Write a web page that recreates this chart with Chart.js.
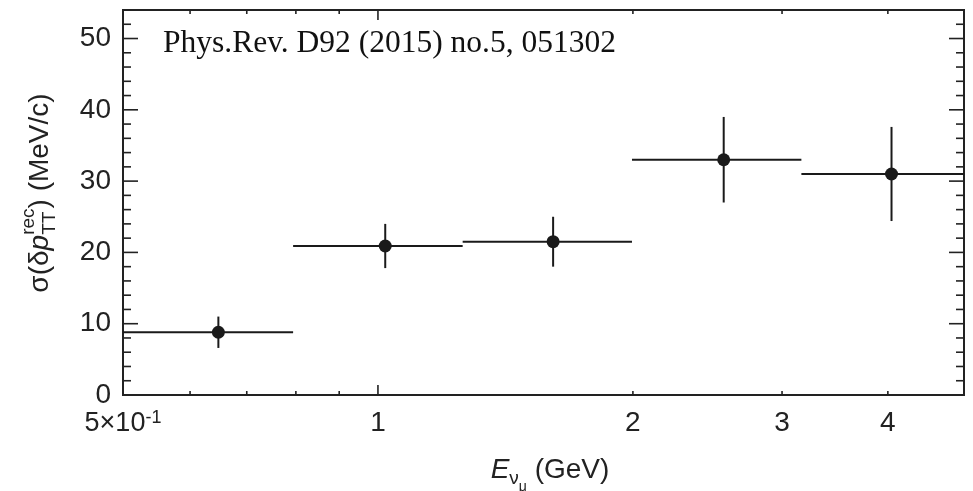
<!DOCTYPE html>
<html>
<head>
<meta charset="utf-8">
<script src="https://cdn.jsdelivr.net/npm/chart.js@4.4.1/dist/chart.umd.min.js"></script>
<style>
  html, body { margin: 0; padding: 0; background: #fff; }
  #wrap { width: 973px; height: 491px; }
</style>
</head>
<body>
<div id="wrap"><canvas id="sigmaChart"></canvas></div>
<script>
// Energy bins (GeV), bin centres and measured width of delta p_TT
const binLow = [0.5, 0.794, 1.259, 1.995, 3.162];
const binHigh = [0.794, 1.259, 1.995, 3.162, 5.012];
const energy = [0.648, 1.02, 1.61, 2.56, 4.04];
const sigma = [8.8, 20.9, 21.5, 33.0, 31.0];
const sigmaErr = [2.2, 3.1, 3.5, 6.0, 6.6];

// Axis ticks
const xTickValues = [1, 2, 3, 4];
const xTickLabels = ['1', '2', '3', '4'];
const xMinorValues = [0.6, 0.7, 0.8, 0.9];
const yTickValues = [0, 10, 20, 30, 40, 50];

const sans = '"Liberation Sans", Arial, sans-serif';
const serif = '"Liberation Serif", "Times New Roman", serif';
const ink = '#222';

function font(size, style) {
  return (style ? style + ' ' : '') + size + 'px ' + sans;
}

function seg(ctx, x1, y1, x2, y2) {
  ctx.beginPath();
  ctx.moveTo(x1, y1);
  ctx.lineTo(x2, y2);
  ctx.stroke();
}

// draw a run of text pieces; a piece with "stack" puts sup and sub at the same x
function drawRuns(ctx, parts, x, y, measureOnly) {
  let dx = 0;
  for (const p of parts) {
    if (p.stack) {
      let w = 0;
      for (const q of p.stack) {
        ctx.font = font(q.size, q.style);
        if (!measureOnly) ctx.fillText(q.t, x + dx, y + (q.dy || 0));
        w = Math.max(w, ctx.measureText(q.t).width);
      }
      dx += w;
    } else {
      ctx.font = font(p.size, p.style);
      if (!measureOnly) ctx.fillText(p.t, x + dx, y + (p.dy || 0));
      dx += ctx.measureText(p.t).width;
    }
  }
  return dx;
}

const yTitle = [
  { t: 'σ(δ', size: 28 },
  { t: 'p', size: 28, style: 'italic' },
  { stack: [{ t: 'rec', size: 19, dy: -14 }, { t: 'TT', size: 19, dy: 7 }] },
  { t: ') (MeV/c)', size: 28 }
];

const xTitle = [
  { t: 'E', size: 28, style: 'italic' },
  { t: 'ν', size: 19, dy: 6 },
  { t: 'μ', size: 14, dy: 13 },
  { t: ' (GeV)', size: 28 }
];

const framePlugin = {
  id: 'frame',
  beforeDatasetsDraw(chart) {
    const { ctx, chartArea: a, scales: { x, y } } = chart;
    ctx.save();
    ctx.strokeStyle = ink;
    ctx.lineWidth = 2;
    ctx.strokeRect(a.left, a.top, a.right - a.left, a.bottom - a.top);

    // inward ticks, mirrored on the opposite side
    ctx.lineWidth = 1.6;
    for (let v = 0; v <= y.max; v += 2) {
      const py = y.getPixelForValue(v);
      const len = v % 10 === 0 ? 15 : 8;
      seg(ctx, a.left, py, a.left + len, py);
      seg(ctx, a.right, py, a.right - len, py);
    }
    for (const v of [...xMinorValues, ...xTickValues]) {
      const px = x.getPixelForValue(v);
      const len = v === 1 ? 10 : 4;
      seg(ctx, px, a.bottom, px, a.bottom - len);
      seg(ctx, px, a.top, px, a.top + len);
    }

    // horizontal bin widths and vertical error bars
    ctx.save();
    ctx.beginPath();
    ctx.rect(a.left, a.top, a.right - a.left, a.bottom - a.top);
    ctx.clip();
    ctx.lineWidth = 2;
    ctx.strokeStyle = '#1a1a1a';
    for (let i = 0; i < sigma.length; i++) {
      const py = y.getPixelForValue(sigma[i]);
      seg(ctx, x.getPixelForValue(binLow[i]), py, x.getPixelForValue(binHigh[i]), py);
      const px = x.getPixelForValue(energy[i]);
      seg(ctx, px, y.getPixelForValue(sigma[i] - sigmaErr[i]), px, y.getPixelForValue(sigma[i] + sigmaErr[i]));
    }
    ctx.restore();
    ctx.restore();
  },
  afterDraw(chart) {
    const { ctx, scales: { x } } = chart;
    ctx.save();
    ctx.fillStyle = ink;
    ctx.textBaseline = 'alphabetic';

    // 5x10^-1 label at the left end of the x axis
    const px = x.getPixelForValue(0.5);
    ctx.font = font(27);
    const wMain = ctx.measureText('5×10').width;
    ctx.font = font(18);
    const wSup = ctx.measureText('-1').width;
    const lx = px - (wMain + wSup) / 2;
    ctx.font = font(27);
    ctx.fillText('5×10', lx, 431);
    ctx.font = font(18);
    ctx.fillText('-1', lx + wMain, 423);

    // x title
    const wx = drawRuns(ctx, xTitle, 0, 0, true);
    drawRuns(ctx, xTitle, 550 - wx / 2, 478);

    // y title, rotated
    const wy = drawRuns(ctx, yTitle, 0, 0, true);
    ctx.save();
    ctx.translate(48, 193);
    ctx.rotate(-Math.PI / 2);
    drawRuns(ctx, yTitle, -wy / 2, 0);
    ctx.restore();

    // reference note
    ctx.fillStyle = '#111';
    ctx.font = '31.5px ' + serif;
    ctx.fillText('Phys.Rev. D92 (2015) no.5, 051302', 163, 52);
    ctx.restore();
  }
};

const ctx = document.getElementById('sigmaChart').getContext('2d');
new Chart(ctx, {
  type: 'scatter',
  data: {
    datasets: [{
      data: energy.map((e, i) => ({ x: e, y: sigma[i] })),
      backgroundColor: '#1a1a1a',
      borderWidth: 0,
      pointRadius: 6.5,
      pointHoverRadius: 6.5
    }]
  },
  options: {
    responsive: true,
    maintainAspectRatio: false,
    animation: false,
    layout: { padding: { top: 10, right: 9, left: 0, bottom: 0 } },
    plugins: { legend: { display: false }, tooltip: { enabled: false } },
    scales: {
      x: {
        type: 'logarithmic',
        min: 0.5,
        max: 4.92,
        grid: { display: false, drawTicks: false },
        border: { display: false },
        afterBuildTicks: s => {
          s.ticks = [0.5, ...xMinorValues, ...xTickValues].map(v => ({ value: v }));
        },
        ticks: {
          autoSkip: false,
          maxRotation: 0,
          padding: 11,
          color: ink,
          font: { family: sans, size: 28 },
          callback: v => {
            const k = xTickValues.indexOf(v);
            return k >= 0 ? xTickLabels[k] : '';
          }
        },
        afterFit: s => {
          s.height = 96;
          s.paddingLeft = 0;
          s.paddingRight = 0;
        }
      },
      y: {
        min: 0,
        max: 54,
        grid: { display: false, drawTicks: false },
        border: { display: false },
        afterBuildTicks: s => {
          s.ticks = yTickValues.map(v => ({ value: v }));
        },
        ticks: {
          padding: 12,
          color: ink,
          font: { family: sans, size: 28 }
        },
        afterFit: s => {
          s.width = 123;
          s.paddingTop = 0;
          s.paddingBottom = 0;
        }
      }
    }
  },
  plugins: [framePlugin]
});
</script>
</body>
</html>
